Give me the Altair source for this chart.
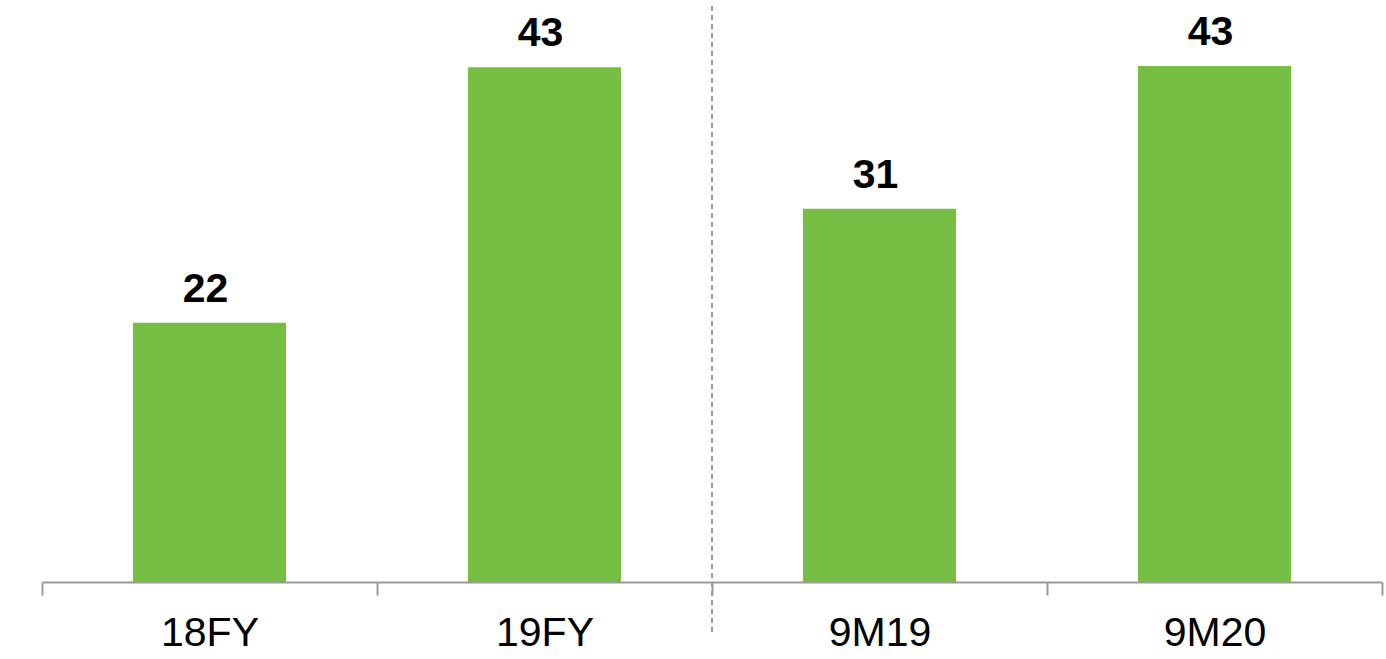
import altair as alt
import pandas as pd

categories = ["18FY", "19FY", "9M19", "9M20"]
values = [21.6, 42.9, 31.1, 43.0]
labels = ["22", "43", "31", "43"]

df = pd.DataFrame({"cat": categories, "val": values, "lab": labels})

x = alt.X(
    "cat:N",
    sort=categories,
    scale=alt.Scale(paddingInner=0, paddingOuter=0),
    axis=alt.Axis(
        title=None,
        labelAngle=0,
        labelFont="Liberation Sans",
        labelFontSize=41,
        labelColor="#000000",
        labelBaseline="alphabetic",
        labelPadding=50,
        tickBand="extent",
        tickSize=13,
        tickColor="#999999",
        tickWidth=2,
        domainColor="#999999",
        domainWidth=2,
        grid=False,
    ),
)
y = alt.Y("val:Q", scale=alt.Scale(domain=[0, 48.5], nice=False, zero=True), axis=None)

bars = alt.Chart(df).mark_bar(color="#76BE44", width=alt.RelativeBandSize(0.457)).encode(x=x, y=y)
text = alt.Chart(df).mark_text(
    font="Liberation Sans", fontSize=41, fontWeight="bold", color="#000000",
    baseline="alphabetic", dy=-21, dx=-4,
).encode(x=alt.X("cat:N", sort=categories), y="val:Q", text="lab:N")

divider = alt.Chart(df).mark_rule(color="#999999", strokeWidth=2, strokeDash=[5, 4]).encode(
    x=alt.value(670), y=alt.value(6), y2=alt.value(634)
)

chart = alt.layer(bars, text, divider).properties(
    width=1340,
    height=582,
    autosize=alt.AutoSizeParams(type="none"),
    padding={"left": 42, "top": 0, "right": 4, "bottom": 77},
).configure_view(stroke=None)

chart.save("out.html", embed_options={"renderer": "svg", "actions": False})
